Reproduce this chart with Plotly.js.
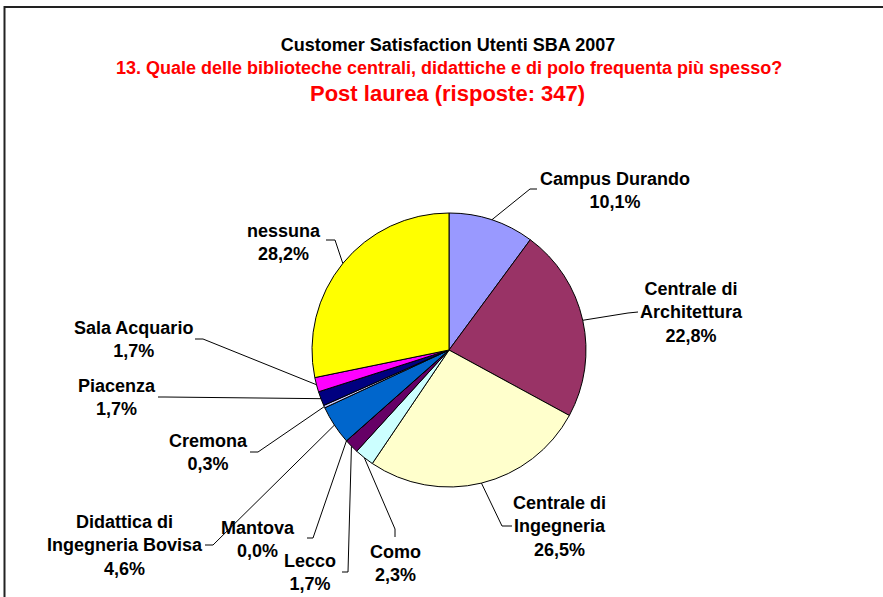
<!DOCTYPE html>
<html>
<head>
<meta charset="utf-8">
<script src="https://cdn.plot.ly/plotly-3.0.1.min.js"></script>
<style>html,body{margin:0;padding:0;background:#fff;}#chart{width:883px;height:597px;}</style>
</head>
<body>
<div id="chart"></div>
<script>
// ---- data ----
const categories = ["Campus Durando", "Centrale di Architettura", "Centrale di Ingegneria", "Como", "Lecco", "Mantova", "Didattica di Ingegneria Bovisa", "Cremona", "Piacenza", "Sala Acquario", "nessuna"];
const labelText = ["Campus Durando", "Centrale di<br>Architettura", "Centrale di<br>Ingegneria", "Como", "Lecco", "Mantova", "Didattica di<br>Ingegneria Bovisa", "Cremona", "Piacenza", "Sala Acquario", "nessuna"];
const percentages = [10.1, 22.8, 26.5, 2.3, 1.7, 0.0, 4.6, 0.3, 1.7, 1.7, 28.2];
const sliceColors = ["#9999FF", "#993366", "#FFFFCC", "#CCFFFF", "#660066", "#FF8080", "#0066CC", "#CCCCFF", "#000080", "#FF00FF", "#FFFF00"];

const titleLine1 = "Customer Satisfaction Utenti SBA 2007";
const titleLine2 = "13. Quale delle biblioteche centrali, didattiche e di polo frequenta più spesso?";
const titleLine3 = "Post laurea (risposte: 347)";

// ---- layout constants (pixels) ----
const W = 883, H = 597;
const cx = 449, cy = 350, R = 137;
// label block centre [x, y] and leader elbow / end points in pixels
const labelPos = [[615, 190.5], [691, 312], [559, 526], [395, 563.5], [310, 572.5], [258, 539.5], [125, 545], [208, 452.5], [117, 397], [133, 340], [284, 242.5]];
const elbow = [[530, 189], [628, 313], [502, 526], [395, 529], [348, 572], [313, 538], [213, 545], [258, 452], [165, 397], [203, 339], [335, 240]];
const lineEnd = [[537, 189], [638, 312], [512, 526], [395, 537], [342, 572], [307, 538], [205, 545], [250, 452], [158, 397], [195, 339], [326, 240]];

const px = x => x / W;
const py = y => 1 - y / H;
const FONT = "Arial, 'Liberation Sans', sans-serif";

const total = percentages.reduce((a, b) => a + b, 0);
let cum = 0;
const shapes = [];
const annotations = [];
percentages.forEach((v, i) => {
  const f = (cum + v / 2) / total;
  cum += v;
  const th = f * 2 * Math.PI;
  const ex = cx + R * Math.sin(th), ey = cy - R * Math.cos(th);
  shapes.push({
    type: 'path', xref: 'paper', yref: 'paper',
    path: `M ${px(ex)} ${py(ey)} L ${px(elbow[i][0])} ${py(elbow[i][1])} L ${px(lineEnd[i][0])} ${py(lineEnd[i][1])}`,
    line: {color: '#000', width: 1}
  });
  annotations.push({
    xref: 'paper', yref: 'paper', x: px(labelPos[i][0]), y: py(labelPos[i][1]),
    xanchor: 'center', yanchor: 'middle', showarrow: false, align: 'center',
    text: labelText[i] + '<br>' + v.toFixed(1).replace('.', ',') + '%',
    font: {family: FONT, size: 18, color: '#000', weight: 'bold'}
  });
});

annotations.push({
  xref: 'paper', yref: 'paper', x: px(449), y: py(68), xanchor: 'center', yanchor: 'middle', showarrow: false,
  text: titleLine2, font: {family: FONT, size: 18, color: '#FF0000', weight: 'bold'}
});
annotations.push({
  xref: 'paper', yref: 'paper', x: px(448), y: py(94), xanchor: 'center', yanchor: 'middle', showarrow: false,
  text: titleLine3, font: {family: FONT, size: 22, color: '#FF0000', weight: 'bold'}
});

// chart frame
shapes.push({type: 'rect', xref: 'paper', yref: 'paper', x0: px(4.5), x1: 1.05, y0: -0.05, y1: py(7),
  line: {color: '#222', width: 2}, layer: 'below'});

const data = [{
  type: 'pie',
  labels: categories,
  values: percentages,
  sort: false,
  direction: 'clockwise',
  rotation: 0,
  textinfo: 'none',
  hoverinfo: 'skip',
  marker: {colors: sliceColors, line: {color: '#000', width: 1}},
  domain: {x: [px(cx - R), px(cx + R)], y: [py(cy + R), py(cy - R)]},
  showlegend: false
}];

const layout = {
  width: W, height: H,
  margin: {l: 0, r: 0, t: 0, b: 0},
  paper_bgcolor: '#fff',
  showlegend: false,
  title: {text: titleLine1, x: px(448), xanchor: 'center', xref: 'paper', y: py(45), yanchor: 'middle', yref: 'container',
    font: {family: FONT, size: 18, color: '#000', weight: 'bold'}},
  shapes: shapes,
  annotations: annotations
};

Plotly.newPlot('chart', data, layout, {staticPlot: true});
</script>
</body>
</html>
